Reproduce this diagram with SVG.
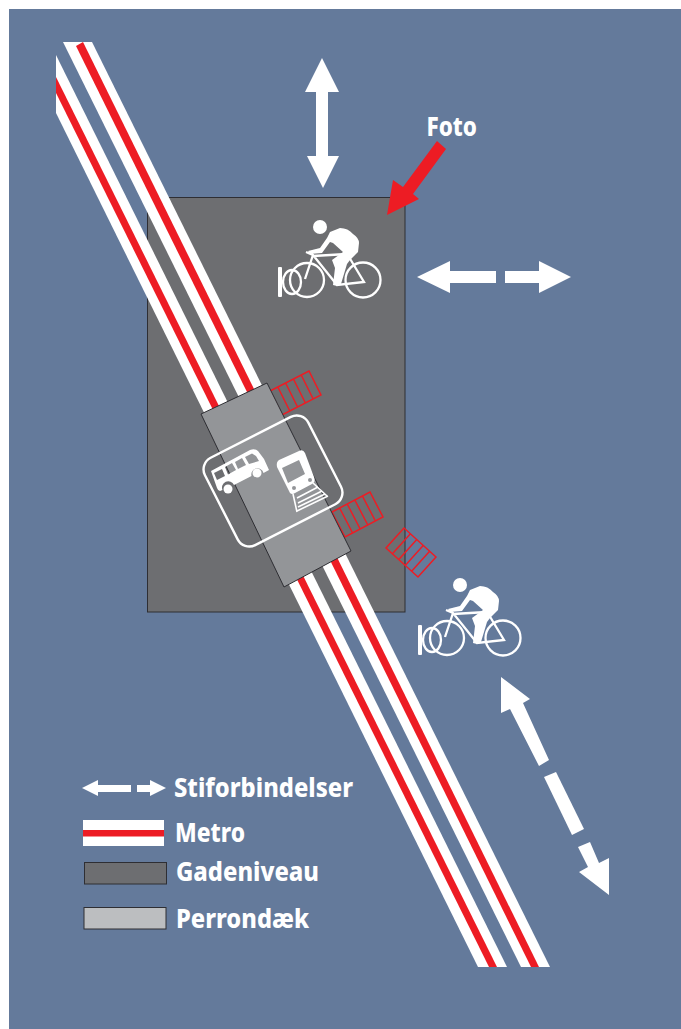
<svg xmlns="http://www.w3.org/2000/svg" xmlns:xlink="http://www.w3.org/1999/xlink" width="681" height="1029" viewBox="0 0 681 1029">
<style>
.w{fill:#fff}
.r{fill:#ed1c24}
.lbl{font-family:"Noto Sans","Liberation Sans",sans-serif;font-weight:800;fill:#fff;font-size:27px}
.cw{fill:none;stroke:#ed1c24;stroke-width:1.500}
.edge{stroke:#2e2e33;stroke-width:1}
.line{fill:none;stroke:#fff}
</style>
<defs>
<g id="cyclist">
<circle class="w" cx="320" cy="227" r="7"/>
<path class="w" d="M330,232 L340,228 Q348,228 353,234 Q359,238 359,243 L358,252 L350,260 L347,264 L341,284 Q338,287 333,285 L335,268 L332,260 L343,252 L333,243 L330,242 L322,253 L310,254 L308,251 L320,248 L327,238 Z"/>
<g class="line" stroke-width="2.300">
<circle cx="307" cy="280" r="17"/>
<circle cx="363" cy="280" r="17.500"/>
<ellipse cx="292" cy="282" rx="9" ry="12"/>
<path d="M305,279 L313,255 L337,285 L364,282 L349,257 M313,256 L347,254 M306,252 L313,255"/>
</g>
<rect class="w" x="278" y="267" width="4" height="30" rx="1"/>
</g>
</defs>
<rect x="9" y="9" width="672" height="1020" fill="#647a9b"/>
<g id="gadeniveau"><rect class="edge" x="147.500" y="197.500" width="257.500" height="414.500" fill="#6d6e71"/></g>
<g id="connectors">
<g id="metro-right">
<polygon class="w" points="63,42 92,42 550,967 521,967"/>
<polygon class="r" points="76,46 83,42 539,967 531,967"/>
</g>
<g id="metro-left">
<polygon class="w" points="56,55 507,967 478,967 56,113"/>
<polygon class="r" points="56,77 497,967 489,967 56,93"/>
</g>
<g id="crosswalks" class="cw">
<path d="M270,391 L309,371 L321,395 L282,415 Z M277.800,387 L289.800,411 M285.600,383 L297.600,407 M293.400,379 L305.400,403 M301.200,375 L313.200,399"/>
<path d="M332,512 L370,492 L383,517 L345,537 Z M339.600,508 L352.600,533 M347.200,504 L360.200,529 M354.800,500 L367.800,525 M362.400,496 L375.400,521"/>
<path d="M404,528 L436,557 L418,577 L386,548 Z M410.400,533.800 L392.400,553.800 M416.800,539.600 L398.800,559.600 M423.200,545.400 L405.200,565.400 M429.600,551.200 L411.600,571.200"/>
</g>
<polygon id="arrow-north" class="w" points="322,58 339,92 328,92 328,156 339,156 323,188 307,156 316,156 316,92 305,92"/>
<g id="arrow-east" class="w">
<polygon points="417,277 450,261 450,271 496,271 496,283 450,283 450,293"/>
<polygon points="505,271 539,271 539,261 571,277 539,293 539,283 505,283"/>
</g>
<g id="arrow-diagonal" class="w">
<polygon points="501,677 530,699 523,703 549,760 539,766 510,709 501,713"/>
<polygon points="544,777 556,772 584,829 572,835"/>
<polygon points="578,847 590,842 599,863 609,858 609,895 579,872 588,867"/>
</g>
<polygon id="arrow-foto" class="r" points="437,141 446,149 413,194 419,199 387,215 393,180 403,187"/>
</g>
<g id="perrondaek"><polygon class="edge" points="267,383 201,414 284,587 351,551" fill="#939598"/></g>
<g id="station-sign">
<rect class="line" stroke-width="2.400" x="215" y="432" width="116" height="98" rx="13" transform="rotate(-27 273 481)"/>
<path id="bus" class="w" fill-rule="evenodd" d="M211,471 L250,450 Q255,448 258,451 L264,459 L269,470 L263.500,473 A6,6 0 0 0 251.500,476 L234,485 A6,6 0 0 0 222.500,490 L220,491 Q218,491 217,488 Z M214,473 L222,469 L225,476 L217,480 Z M225,467 L232,463 L236,470 L228,474.500 Z M235,462 L242,458 L246,465 L238,469 Z M245,457 L252,453.500 L256,456 L259,461 L249,464 Z"/>
<circle class="w" cx="257" cy="473" r="4.500"/>
<circle class="w" cx="228" cy="489" r="4.500"/>
<path id="train" class="w" fill-rule="evenodd" d="M279,460 L299,451 Q303,449 305,453 L314,477 Q316,482 312,484 L295,493 Q292,495 290,493 L277,467 Q276,462 279,460 Z M282,468 L299,460 L305,474 L288,483 Z M296,488 A2,2 0 1 0 292,488 A2,2 0 1 0 296,488 Z M312,480 A2,2 0 1 0 308,480 A2,2 0 1 0 312,480 Z"/>
<path class="line" stroke-width="1.600" d="M293,494 L297,512 M313,483 L327,496 M297,498 L318,487 M298,503 L322,491 M298,507 L325,494 M297,511 L328,496"/>
</g>
<g id="cyclist-north"><use xlink:href="#cyclist" href="#cyclist"/></g>
<g id="cyclist-south"><use xlink:href="#cyclist" href="#cyclist" transform="translate(140 358)"/></g>
<g id="foto-label"><text class="lbl" x="426.500" y="136" textLength="50.500" lengthAdjust="spacingAndGlyphs">Foto</text></g>
<g id="legend">
<g id="legend-stiforbindelser">
<g class="w">
<polygon points="82,788 98,780 98,785 131,785 131,792 98,792 98,796"/>
<polygon points="137,785 150,785 150,780 166,788 150,796 150,792 137,792"/>
</g>
<text class="lbl" x="174" y="797" textLength="179" lengthAdjust="spacingAndGlyphs">Stiforbindelser</text>
</g>
<g id="legend-metro">
<rect class="w" x="83" y="820" width="81" height="26"/>
<rect class="r" x="83" y="830" width="81" height="6.500"/>
<text class="lbl" x="175" y="842" textLength="70" lengthAdjust="spacingAndGlyphs">Metro</text>
</g>
<g id="legend-gadeniveau">
<rect class="edge" x="84.500" y="862.500" width="82" height="21.500" fill="#6d6e71"/>
<text class="lbl" x="176" y="881" textLength="143" lengthAdjust="spacingAndGlyphs">Gadeniveau</text>
</g>
<g id="legend-perrondaek">
<rect class="edge" x="84" y="907.500" width="82" height="21.500" fill="#bcbec0"/>
<text class="lbl" x="176" y="928" textLength="133" lengthAdjust="spacingAndGlyphs">Perrondæk</text>
</g>
</g>
</svg>
